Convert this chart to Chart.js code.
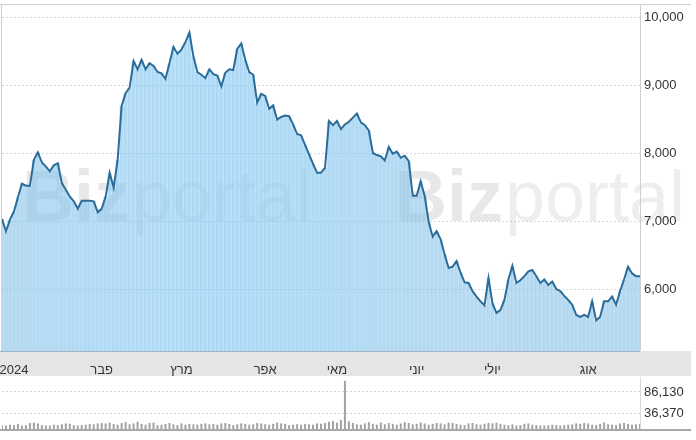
<!DOCTYPE html>
<html>
<head>
<meta charset="utf-8">
<script src="https://cdn.jsdelivr.net/npm/chart.js@4"></script>
<style>
  body { margin: 0; background: #fff; }
  #main { position: absolute; left: 0; top: 0; width: 696px; height: 376px; }
  #vol { position: absolute; left: 0; top: 376px; width: 696px; height: 64px; }
</style>
</head>
<body>
<div id="main"><canvas id="priceChart"></canvas></div>
<div id="vol"><canvas id="volChart"></canvas></div>
<script>
// closing prices, one per trading day
const closes = [
  7040, 6860, 7030, 7150, 7360, 7560, 7530, 7530, 7910, 8020,
  7870, 7810, 7740, 7830, 7860, 7570, 7470, 7370, 7300, 7190,
  7310, 7310, 7310, 7300, 7140, 7190, 7370, 7720, 7500, 7910,
  8700, 8890, 8970, 9360, 9240, 9380, 9240, 9330, 9290, 9200,
  9180, 9100, 9330, 9570, 9470, 9530, 9640, 9780, 9430, 9200,
  9160, 9110, 9240, 9170, 9150, 8990, 9190, 9240, 9230, 9540,
  9620, 9380, 9200, 9160, 8750, 8880, 8850, 8660, 8710, 8500,
  8540, 8560, 8550, 8430, 8290, 8270, 8130, 7990, 7850, 7720,
  7720, 7790, 8480, 8420, 8480, 8360, 8430, 8470, 8530, 8590,
  8460, 8420, 8340, 8010, 7980, 7960, 7900, 8100, 8000, 8030,
  7940, 7970, 7890, 7380, 7380, 7590, 7380, 7000, 6780, 6860,
  6740, 6520, 6320, 6340, 6420, 6250, 6110, 6100, 5980, 5900,
  5830, 5770, 6170, 5800, 5660, 5700, 5850, 6150, 6350, 6100,
  6140, 6200, 6270, 6290, 6200, 6100, 6150, 6070, 6120, 6010,
  5980, 5910, 5850, 5780, 5630, 5600, 5630, 5600, 5830, 5550,
  5600, 5830, 5830, 5900, 5780, 5980, 6150, 6340, 6240, 6200,
  6200
];

// daily volume (units)
const volumes = [
  9000, 8000, 10000, 9000, 12000, 8000, 9000, 14000, 15000, 13000,
  9000, 8000, 8000, 10000, 9000, 11000, 13000, 12000, 9000, 8000,
  9000, 10000, 12000, 11000, 13000, 14000, 13000, 15000, 12000, 10000,
  14000, 16000, 11000, 13000, 17000, 12000, 10000, 14000, 15000, 9000,
  10000, 12000, 14000, 11000, 9000, 13000, 10000, 12000, 11000, 10000,
  12000, 13000, 11000, 12000, 10000, 13000, 14000, 12000, 9000, 11000,
  13000, 12000, 10000, 11000, 14000, 13000, 11000, 10000, 12000, 15000,
  13000, 12000, 9000, 10000, 11000, 10000, 12000, 11000, 10000, 13000,
  12000, 14000, 17000, 19000, 15000, 21000, 112000, 18000, 14000, 11000,
  10000, 13000, 16000, 12000, 10000, 15000, 11000, 14000, 12000, 10000,
  13000, 16000, 14000, 11000, 12000, 15000, 13000, 10000, 12000, 14000,
  13000, 11000, 15000, 14000, 12000, 10000, 9000, 13000, 14000, 11000,
  10000, 12000, 14000, 13000, 15000, 12000, 10000, 9000, 11000, 8000,
  9000, 12000, 13000, 10000, 9000, 8000, 8000, 9000, 10000, 9000,
  8000, 9000, 10000, 11000, 13000, 12000, 14000, 13000, 10000, 9000,
  12000, 15000, 11000, 10000, 9000, 13000, 14000, 12000, 10000, 11000,
  12000
];

const monthNames = ["2024", "פבר", "מרץ", "אפר", "מאי", "יוני", "יולי", "אוג"];
const monthIdx = [3, 25, 45, 66, 84, 104, 123, 147];
const priceTicks = [6000, 7000, 8000, 9000, 10000];
const volTicks = [36370, 86130];

const labels = closes.map(() => "");
monthIdx.forEach((idx, k) => { labels[idx] = monthNames[k]; });

const FONT = { family: "'Liberation Sans', Arial, sans-serif", size: 13 };

// keep the plot area where the reference has it
const noPad = s => {
  s.paddingTop = 0; s.paddingBottom = 0;
  s.paddingLeft = 0; s.paddingRight = 0;
};

const mainDecor = {
  id: "mainDecor",
  beforeDraw(chart) {
    const { ctx, chartArea } = chart;
    ctx.save();
    ctx.fillStyle = "#e5e5e5";
    ctx.fillRect(0, chartArea.bottom, 691, chart.height - chartArea.bottom);
    ctx.restore();
  },
  beforeDatasetsDraw(chart) {
    // watermark
    const { ctx } = chart;
    ctx.save();
    ctx.textBaseline = "alphabetic";
    [22, 395].forEach(x0 => {
      ctx.font = "bold 72px 'Liberation Sans', Arial, sans-serif";
      ctx.fillStyle = "rgba(0,0,0,0.09)";
      ctx.fillText("Biz", x0, 221);
      const w = ctx.measureText("Biz").width;
      ctx.font = "72px 'Liberation Sans', Arial, sans-serif";
      ctx.fillStyle = "rgba(0,0,0,0.065)";
      ctx.fillText("portal", x0 + w + 2, 221);
    });
    ctx.restore();
  },
  afterDraw(chart) {
    const { ctx, chartArea } = chart;
    ctx.save();
    ctx.lineWidth = 1;
    ctx.strokeStyle = "#cfcfcf";
    ctx.beginPath();
    ctx.moveTo(0, chartArea.top + 0.5); ctx.lineTo(691, chartArea.top + 0.5);
    ctx.moveTo(1.5, chartArea.top); ctx.lineTo(1.5, chartArea.bottom);
    ctx.moveTo(chartArea.right + 0.5, chartArea.top); ctx.lineTo(chartArea.right + 0.5, chartArea.bottom);
    ctx.stroke();
    ctx.strokeStyle = "#9fb4c4";
    ctx.beginPath();
    ctx.moveTo(0, chartArea.bottom + 0.5); ctx.lineTo(chartArea.right, chartArea.bottom + 0.5);
    ctx.stroke();
    ctx.restore();
  }
};

new Chart(document.getElementById("priceChart"), {
  type: "bar",
  data: {
    labels: labels,
    datasets: [
      {
        type: "line",
        data: closes,
        borderColor: "#2b6c99",
        borderWidth: 2,
        pointRadius: 0,
        tension: 0,
        order: 0
      },
      {
        type: "bar",
        data: closes,
        backgroundColor: "rgba(132,197,237,0.6)",
        borderColor: "rgba(110,180,225,0.35)",
        borderWidth: { left: 1, right: 0, top: 0, bottom: 0 },
        borderSkipped: false,
        barPercentage: 1,
        categoryPercentage: 1,
        order: 1
      }
    ]
  },
  options: {
    responsive: true,
    maintainAspectRatio: false,
    animation: false,
    layout: { padding: { left: 2, top: 4, right: 0, bottom: 0 } },
    plugins: { legend: { display: false }, tooltip: { enabled: false } },
    scales: {
      x: {
        offset: false,
        grid: { display: false },
        border: { display: false },
        ticks: {
          autoSkip: false,
          maxRotation: 0,
          padding: 4,
          color: "#333",
          font: FONT
        },
        afterFit: s => { s.height = 25; noPad(s); }
      },
      y: {
        position: "right",
        min: 5100,
        max: 10200,
        afterBuildTicks: s => { s.ticks = priceTicks.map(v => ({ value: v })); },
        grid: { color: "#d3dce4", drawTicks: false },
        border: { display: false, dash: [2, 2] },
        ticks: {
          padding: 4,
          color: "#333",
          font: FONT,
          callback: v => v.toLocaleString("en-US")
        },
        afterFit: s => { s.width = 56; noPad(s); }
      }
    }
  },
  plugins: [mainDecor]
});

const volDecor = {
  id: "volDecor",
  afterDraw(chart) {
    const { ctx, chartArea } = chart;
    ctx.save();
    ctx.strokeStyle = "#dadada";
    ctx.lineWidth = 1;
    ctx.beginPath();
    ctx.moveTo(chartArea.right + 0.5, chartArea.top); ctx.lineTo(chartArea.right + 0.5, chartArea.bottom);
    ctx.stroke();
    ctx.strokeStyle = "#a8a8a8";
    ctx.lineWidth = 2;
    ctx.beginPath();
    ctx.moveTo(0, chartArea.bottom + 1); ctx.lineTo(691, chartArea.bottom + 1);
    ctx.stroke();
    ctx.restore();
  }
};

new Chart(document.getElementById("volChart"), {
  type: "bar",
  data: {
    labels: labels,
    datasets: [{
      data: volumes,
      backgroundColor: "#a3a3a3",
      barPercentage: 0.5,
      categoryPercentage: 1
    }]
  },
  options: {
    responsive: true,
    maintainAspectRatio: false,
    animation: false,
    layout: { padding: { left: 2, top: 1, right: 0, bottom: 11 } },
    plugins: { legend: { display: false }, tooltip: { enabled: false } },
    scales: {
      x: { display: false, offset: false },
      y: {
        position: "right",
        min: 0,
        max: 121000,
        afterBuildTicks: s => { s.ticks = volTicks.map(v => ({ value: v })); },
        grid: { color: "#d6d6d6", drawTicks: false },
        border: { display: false, dash: [2, 2] },
        ticks: {
          padding: 4,
          color: "#333",
          font: FONT,
          callback: v => v.toLocaleString("en-US")
        },
        afterFit: s => { s.width = 56; noPad(s); }
      }
    }
  },
  plugins: [volDecor]
});
</script>
</body>
</html>
